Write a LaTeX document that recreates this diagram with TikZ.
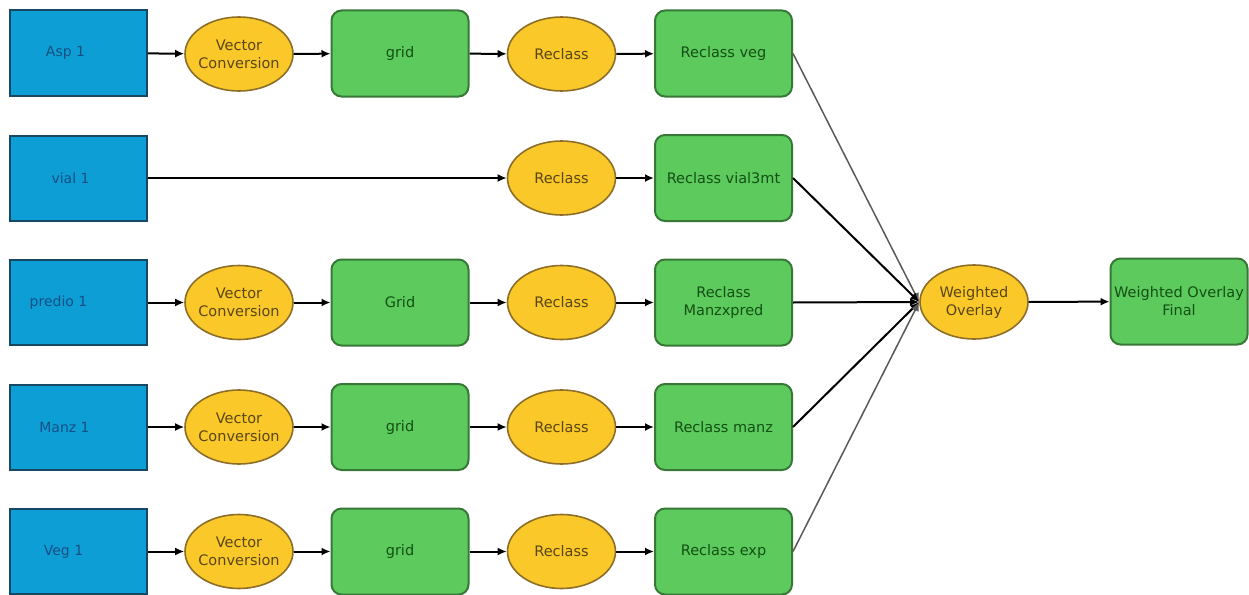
\documentclass[tikz,border=0pt]{standalone}
\usepackage{fontspec}
\setmainfont{DejaVu Sans}
\usetikzlibrary{shapes.geometric,arrows.meta}
\definecolor{bluefill}{RGB}{14,158,214}
\definecolor{blueline}{RGB}{22,72,100}
\definecolor{bluetext}{RGB}{20,80,130}
\definecolor{yelfill}{RGB}{250,200,40}
\definecolor{yelline}{RGB}{140,110,40}
\definecolor{yeltext}{RGB}{90,70,20}
\definecolor{grnfill}{RGB}{92,202,92}
\definecolor{grnline}{RGB}{55,120,55}
\definecolor{grntext}{RGB}{20,80,20}
\tikzset{
  x=1pt, y=-1pt,
  srcbox/.style={draw=blueline, fill=bluefill, line width=2pt, minimum width=137pt, minimum height=85pt, inner sep=0pt},
  srclabel/.style={text=bluetext, font=\fontsize{14}{16}\selectfont},
  tool/.style={ellipse, draw=yelline, fill=yelfill, line width=1.6pt, minimum width=108pt, minimum height=74pt, inner ysep=0pt, inner xsep=-8pt, align=center, text=yeltext, font=\fontsize{14.5}{18}\selectfont},
  outbox/.style={draw=grnline, fill=grnfill, line width=2pt, rounded corners=10pt, minimum width=137pt, minimum height=86pt, inner sep=0pt, align=center, text=grntext, font=\fontsize{14.5}{18}\selectfont},
  flow/.style={line width=2pt, black, -{Latex[length=9pt,width=8pt]}},
  thinflow/.style={line width=1.5pt, black!65, -{Latex[length=9pt,width=8pt]}},
}
\begin{document}
\begin{tikzpicture}
\useasboundingbox (0,0) rectangle (1249,594);
% row 1
\node[srcbox, label={[srclabel, xshift=-13pt]center:Asp 1}] (s1) at (78.5,53) {};
\node[tool] (v1) at (239,54) {Vector\\Conversion};
\node[outbox] (g1) at (400,53.5) {grid};
\node[tool] (r1) at (561.5,54) {Reclass};
\node[outbox] (o1) at (723.5,53.5) {Reclass veg};
% row 2
\node[srcbox, label={[srclabel, xshift=-8pt]center:vial 1}] (s2) at (78.5,178) {};
\node[tool] (r2) at (561.5,178) {Reclass};
\node[outbox] (o2) at (723.5,178) {Reclass vial3mt};
% row 3
\node[srcbox, label={[srclabel, xshift=-20pt]center:predio 1}] (s3) at (78.5,302.5) {};
\node[tool] (v3) at (239,302.5) {Vector\\Conversion};
\node[outbox] (g3) at (400,302.5) {Grid};
\node[tool] (r3) at (561.5,302.5) {Reclass};
\node[outbox] (o3) at (723.5,302.5) {Reclass\\Manzxpred};
% row 4
\node[srcbox, label={[srclabel, xshift=-14pt]center:Manz 1}] (s4) at (78.5,427) {};
\node[tool] (v4) at (239,427) {Vector\\Conversion};
\node[outbox] (g4) at (400,427) {grid};
\node[tool] (r4) at (561.5,427) {Reclass};
\node[outbox] (o4) at (723.5,427) {Reclass manz};
% row 5
\node[srcbox, label={[srclabel, xshift=-15pt]center:Veg 1}] (s5) at (78.5,551.5) {};
\node[tool] (v5) at (239,551.5) {Vector\\Conversion};
\node[outbox] (g5) at (400,551.5) {grid};
\node[tool] (r5) at (561.5,551.5) {Reclass};
\node[outbox] (o5) at (723.5,551.5) {Reclass exp};
% overlay
\node[tool] (w) at (974,302) {Weighted\\Overlay};
\node[outbox] (f) at (1179,301.5) {Weighted Overlay\\Final};
% connectors
\foreach \i in {1,3,4,5} {
  \draw[flow] (s\i) -- (v\i);
  \draw[flow] (v\i) -- (g\i);
  \draw[flow] (g\i) -- (r\i);
  \draw[flow] (r\i) -- (o\i);
}
\draw[flow] (s2) -- (r2);
\draw[flow] (r2) -- (o2);
\draw[thinflow] (o1.east) -- (w.west);
\draw[flow] (o2.east) -- (w.west);
\draw[flow] (o3.east) -- (w.west);
\draw[flow] (o4.east) -- (w.west);
\draw[thinflow] (o5.east) -- (w.west);
\draw[flow] (w) -- (f);
\end{tikzpicture}
\end{document}
